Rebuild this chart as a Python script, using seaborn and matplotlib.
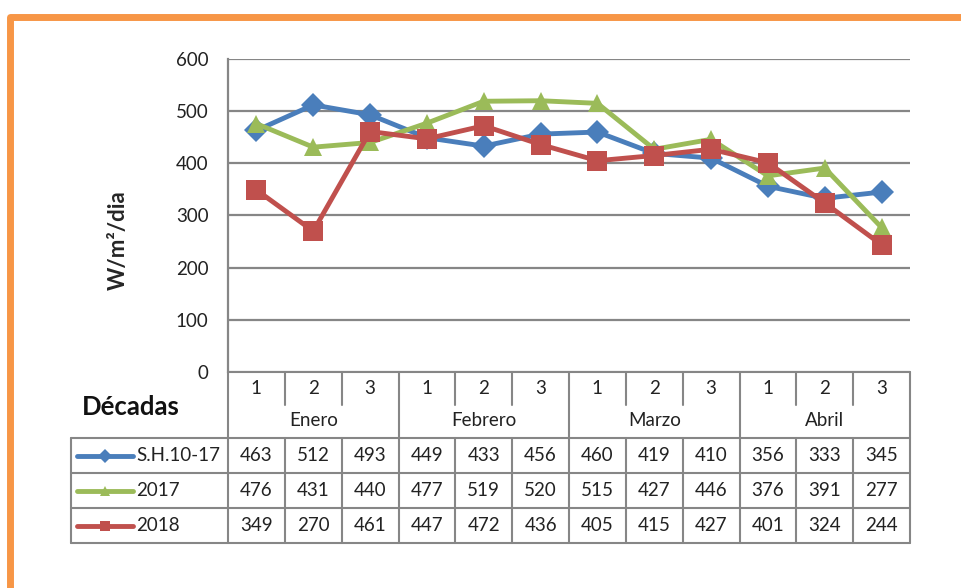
import seaborn as sns
import matplotlib.pyplot as plt
from matplotlib.lines import Line2D
import pandas as pd

months = ['Enero', 'Febrero', 'Marzo', 'Abril']
decades = ['1', '2', '3'] * 4
series_names = ['S.H.10-17', '2017', '2018']
sh_10_17 = [463, 512, 493, 449, 433, 456, 460, 419, 410, 356, 333, 345]
y2017 = [476, 431, 440, 477, 519, 520, 515, 427, 446, 376, 391, 277]
y2018 = [349, 270, 461, 447, 472, 436, 405, 415, 427, 401, 324, 244]
y_ticks = [0, 100, 200, 300, 400, 500, 600]

colors = ['#4A7EBB', '#9BBB59', '#C0504D']
markers = ['D', '^', 's']
marker_sizes = [12, 13, 15]
grid_col = '#868686'
txt_col = '#222222'
fs = 13.5

sns.set_style('white')
plt.rcParams['font.family'] = ['Lato', 'DejaVu Sans']

W, H = 961, 588
fig = plt.figure(figsize=(W / 100, H / 100), dpi=100)

# pixel layout
px_left, px_right, px_top, px_bottom = 228, 910, 59, 372
ax = fig.add_axes([px_left / W, 1 - px_bottom / H,
                   (px_right - px_left) / W, (px_bottom - px_top) / H])

df = pd.DataFrame({'x': list(range(12)) * 3,
                   'value': sh_10_17 + y2017 + y2018,
                   'serie': sum([[n] * 12 for n in series_names], [])})

for name, col, mk, ms in zip(series_names, colors, markers, marker_sizes):
    sub = df[df['serie'] == name]
    sns.lineplot(data=sub, x='x', y='value', ax=ax, color=col, lw=3.5,
                 marker=mk, markersize=ms, markeredgewidth=0, legend=False,
                 clip_on=False, zorder=3)

ax.set_xlim(-0.5, 11.5)
ax.set_ylim(0, 600)
ax.set_yticks(y_ticks)
ax.set_yticklabels([str(v) for v in y_ticks], fontsize=fs, color=txt_col)
ax.set_xticks([])
ax.set_xlabel('')
ax.set_ylabel('')
ax.grid(axis='y', color=grid_col, lw=1.6)
ax.tick_params(axis='y', length=0, pad=14)
for s in ['top', 'right', 'bottom']:
    ax.spines[s].set_visible(False)
ax.spines['left'].set_color(grid_col)
ax.spines['left'].set_linewidth(1.6)
ax.set_axisbelow(True)

fig.text(118 / W, 1 - 240 / H, 'W/m²/dia', rotation=90, ha='center',
         va='center', fontsize=16, fontweight='bold')

# overlay in pixel coordinates for the border and data table
ov = fig.add_axes([0, 0, 1, 1], zorder=-1)
ov.set_xlim(0, W)
ov.set_ylim(H, 0)
ov.axis('off')

orange = '#F79646'
ov.plot([10, 10, W + 5], [H + 5, 16.5, 16.5], color=orange, lw=5,
        solid_joinstyle='round', solid_capstyle='butt')

col_w = (px_right - px_left) / 12
leg_left = 71
row_y = [438, 473, 508, 543]
hdr_mid = 405
lw_t = 1.5


def hline(y, x0, x1):
    ov.add_line(Line2D([x0, x1], [y, y], color=grid_col, lw=lw_t))


def vline(x, y0, y1):
    ov.add_line(Line2D([x, x], [y0, y1], color=grid_col, lw=lw_t))


hline(px_bottom, px_left, px_right)
for y in row_y:
    hline(y, leg_left, px_right)
vline(leg_left, row_y[0], row_y[-1])
for i in range(13):
    x = px_left + i * col_w
    if i % 3 == 0:
        vline(x, px_bottom, row_y[-1])
    else:
        vline(x, px_bottom, hdr_mid)
        vline(x, row_y[0], row_y[-1])

for i, d in enumerate(decades):
    ov.text(px_left + (i + 0.5) * col_w, 389, d, ha='center', va='center',
            fontsize=fs, color=txt_col)
for j, m in enumerate(months):
    ov.text(px_left + (3 * j + 1.5) * col_w, 421, m, ha='center',
            va='center', fontsize=fs, color=txt_col)

ov.text(82, 407, 'Décadas', ha='left', va='center', fontsize=18.5,
        fontweight='bold', color='#111111')

for r, (name, vals, col, mk) in enumerate(zip(series_names,
                                              [sh_10_17, y2017, y2018],
                                              colors, markers)):
    yc = (row_y[r] + row_y[r + 1]) / 2
    ov.plot([77, 133], [yc, yc], color=col, lw=3.5, solid_capstyle='round')
    ov.plot([105], [yc], marker=mk, color=col, markersize=7, mew=0)
    ov.text(136, yc, name, ha='left', va='center', fontsize=fs,
            color=txt_col)
    for i, v in enumerate(vals):
        ov.text(px_left + (i + 0.5) * col_w, yc, str(v), ha='center',
                va='center', fontsize=fs, color=txt_col)

fig.savefig('out.png', dpi=100, facecolor='white')
